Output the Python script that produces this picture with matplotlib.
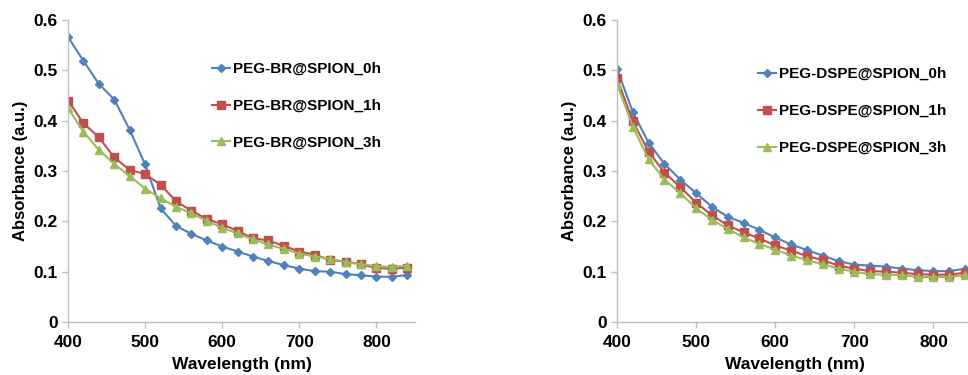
import numpy as np
import matplotlib
matplotlib.use("Agg")
import matplotlib.pyplot as plt

plt.rcParams['font.family'] = ['Liberation Sans', 'DejaVu Sans']
plt.rcParams['font.weight'] = 'bold'

wavelength = np.arange(400, 841, 20)

br_0h = [0.566, 0.519, 0.473, 0.442, 0.382, 0.313, 0.226, 0.191, 0.175, 0.162, 0.150, 0.140,
         0.130, 0.121, 0.113, 0.106, 0.101, 0.100, 0.095, 0.093, 0.090, 0.090, 0.093]
br_1h = [0.440, 0.395, 0.367, 0.327, 0.302, 0.294, 0.273, 0.240, 0.221, 0.205, 0.194, 0.181,
         0.166, 0.162, 0.151, 0.140, 0.134, 0.123, 0.120, 0.115, 0.107, 0.106, 0.108]
br_3h = [0.425, 0.378, 0.342, 0.314, 0.290, 0.265, 0.246, 0.229, 0.216, 0.201, 0.187, 0.176,
         0.164, 0.154, 0.145, 0.136, 0.130, 0.126, 0.119, 0.115, 0.111, 0.109, 0.112]

dspe_0h = [0.503, 0.417, 0.356, 0.314, 0.283, 0.256, 0.229, 0.209, 0.197, 0.183, 0.168, 0.154,
           0.143, 0.132, 0.121, 0.114, 0.112, 0.110, 0.106, 0.103, 0.101, 0.101, 0.106]
dspe_1h = [0.484, 0.399, 0.338, 0.297, 0.268, 0.237, 0.212, 0.192, 0.178, 0.166, 0.152, 0.142,
           0.131, 0.123, 0.112, 0.106, 0.101, 0.100, 0.098, 0.095, 0.094, 0.094, 0.098]
dspe_3h = [0.473, 0.388, 0.323, 0.283, 0.256, 0.226, 0.203, 0.185, 0.168, 0.155, 0.144, 0.132,
           0.123, 0.115, 0.106, 0.100, 0.095, 0.094, 0.093, 0.090, 0.089, 0.090, 0.093]

br_labels = ["PEG-BR@SPION_0h", "PEG-BR@SPION_1h", "PEG-BR@SPION_3h"]
dspe_labels = ["PEG-DSPE@SPION_0h", "PEG-DSPE@SPION_1h", "PEG-DSPE@SPION_3h"]

colors = ["#4F81BD", "#C0504D", "#9BBB59"]
markers = ["D", "s", "^"]
msizes = [4, 6, 6]
axis_gray = "#BFBFBF"


def draw_panel(ax, series, labels, legend_pos):
    for y, lab, c, m, ms in zip(series, labels, colors, markers, msizes):
        ax.plot(wavelength, y, color=c, marker=m, markersize=ms, linewidth=1.5, label=lab)
    ax.set_xlim(400, 850)
    ax.set_ylim(0, 0.6)
    ax.set_xticks([400, 500, 600, 700, 800])
    ax.set_yticks([0, 0.1, 0.2, 0.3, 0.4, 0.5, 0.6])
    ax.set_yticklabels(["0", "0.1", "0.2", "0.3", "0.4", "0.5", "0.6"])
    for s in ["top", "right"]:
        ax.spines[s].set_visible(False)
    for s in ["left", "bottom"]:
        ax.spines[s].set_color(axis_gray)
        ax.spines[s].set_linewidth(1.0)
    ax.tick_params(colors=axis_gray, labelcolor="black", labelsize=12.5, length=4, width=1)
    ax.tick_params(axis="x", pad=5.5)
    for t in ax.get_xticklabels() + ax.get_yticklabels():
        t.set_fontweight("bold")
    ax.set_xlabel("Wavelength (nm)", fontsize=12.5, fontweight="bold", labelpad=5)
    ax.set_ylabel("Absorbance (a.u.)", fontsize=12, fontweight="bold", labelpad=4)
    leg = ax.legend(loc="upper left", bbox_to_anchor=legend_pos, frameon=False,
                    fontsize=11, handlelength=1.2, handletextpad=0.2,
                    labelspacing=1.5, borderpad=0, borderaxespad=0)
    for t in leg.get_texts():
        t.set_fontweight("bold")


fig = plt.figure(figsize=(9.68, 3.75), dpi=100)
ax1 = fig.add_axes([68 / 968, (375 - 322) / 375, 347 / 968, 302 / 375])
ax2 = fig.add_axes([617 / 968, (375 - 322) / 375, 356 / 968, 302 / 375])

draw_panel(ax1, [br_0h, br_1h, br_3h], br_labels, (0.415, 0.861))
draw_panel(ax2, [dspe_0h, dspe_1h, dspe_3h], dspe_labels, (0.395, 0.844))

fig.savefig("out.png", dpi=100)
